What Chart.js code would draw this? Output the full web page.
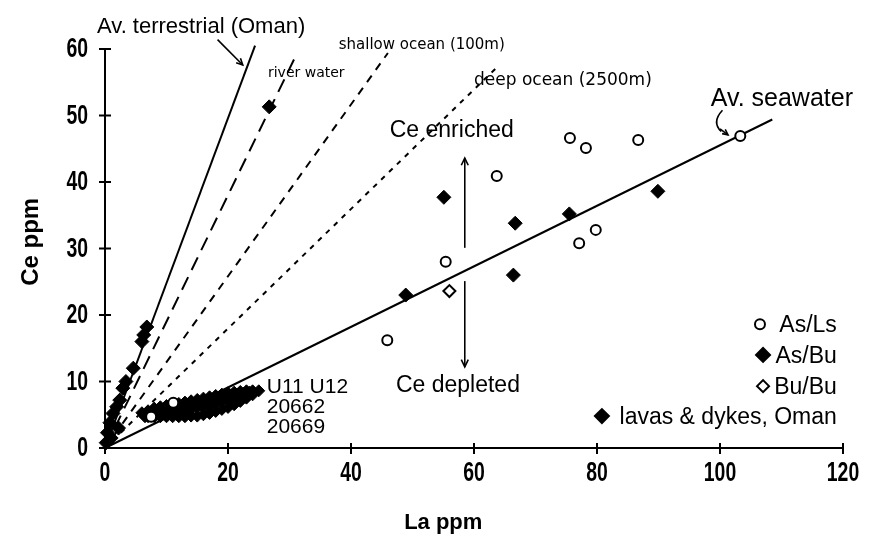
<!DOCTYPE html>
<html>
<head>
<meta charset="utf-8">
<script src="https://cdn.jsdelivr.net/npm/chart.js@4.4.0/dist/chart.umd.min.js"></script>
<style>
  html, body { margin: 0; padding: 0; background: #fff; }
  #wrap { width: 888px; height: 553px; }
</style>
</head>
<body>
<div id="wrap"><canvas id="ceLaChart"></canvas></div>
<script>
// La vs Ce (ppm): sediments, basalts and Oman lavas against reference Ce/La lines

// As/Ls (open circles)
const asLsLa = [45.9, 55.4, 63.7, 75.6, 78.2, 77.1, 79.8, 86.7, 103.3, 7.5, 11.1];
const asLsCe = [16.2, 28.0, 40.9, 46.6, 45.1, 30.8, 32.8, 46.3, 46.9, 4.7, 6.8];

// As/Bu (filled diamonds)
const asBuLa = [48.9, 55.1, 66.4, 66.7, 75.5, 89.9, 26.7];
const asBuCe = [23.0, 37.7, 26.0, 33.8, 35.2, 38.6, 51.3];

// Bu/Bu (open diamonds)
const buBuLa = [56.0];
const buBuCe = [23.6];

// lavas & dykes, Oman
const lavaLa = [6.8, 6.3, 6.0, 4.6, 3.4, 2.9, 2.4, 1.9, 1.3, 0.8, 2.2, 0.4, 0.2, 1.0];
const lavaCe = [18.2, 17.0, 16.0, 12.0, 10.0, 9.0, 7.2, 6.2, 5.2, 3.8, 3.0, 2.3, 0.8, 1.5];

// U11, U12, 20662, 20669 cluster
const clusterLa = [6, 6.5, 7, 7, 8, 8, 8, 9, 9, 9, 10, 10, 10, 11, 11, 11, 12, 12, 12, 13, 13, 13,
  14, 14, 14, 15, 15, 15, 16, 16, 16, 17, 17, 17, 18, 18, 18, 19, 19, 19, 20, 20, 20,
  21, 21, 21, 22, 22, 22, 23, 23, 24, 24, 25,
  7.5, 8.5, 9.5, 10.5, 11.5, 12.5, 13.5, 14.5, 15.5, 16.5, 17.5, 18.5, 19.5, 20.5, 21.5, 22.5, 23.5];
const clusterCe = [5.3, 4.7, 4.7, 5.6, 4.7, 5.4, 6.0, 4.7, 5.5, 6.2, 4.7, 5.5, 6.4, 4.7, 5.6, 6.5, 4.7, 5.7, 6.7, 4.7, 5.8, 6.9,
  4.8, 6.0, 7.1, 4.8, 6.1, 7.3, 5.0, 6.2, 7.5, 5.2, 6.4, 7.7, 5.5, 6.7, 7.9, 5.8, 7.0, 8.1, 6.1, 7.2, 8.3,
  6.5, 7.5, 8.4, 7.0, 7.8, 8.5, 7.5, 8.6, 8.0, 8.6, 8.6,
  5.1, 5.2, 5.3, 5.5, 5.6, 5.9, 6.0, 6.3, 6.5, 6.7, 7.0, 7.3, 7.6, 7.9, 8.1, 8.2, 8.4];

// reference lines from the origin: end points
const refNames = ['Av. terrestrial (Oman)', 'river water', 'shallow ocean (100m)', 'deep ocean (2500m)', 'Av. seawater'];
const refEndLa = [24.4, 31.3, 46.0, 64.0, 108.5];
const refEndCe = [60.5, 59.5, 59.4, 57.5, 49.4];
const refDash = [[], [14, 8], [8, 7], [5, 6], []];

const xTicks = [0, 20, 40, 60, 80, 100, 120];
const yTicks = [0, 10, 20, 30, 40, 50, 60];

const pts = (xs, ys) => xs.map((v, i) => ({ x: v, y: ys[i] }));

const SANS = "'Liberation Sans', Arial, sans-serif";
const SMALL = "'DejaVu Sans', Verdana, sans-serif";

// free text on the plot, placed in data units
const notes = [
  { text: 'Av. terrestrial (Oman)', la: -1.3, ce: 62.4, font: `22px ${SANS}` },
  { text: 'river water', la: 26.5, ce: 55.8, font: `14px ${SMALL}` },
  { text: 'shallow ocean (100m)', la: 38.0, ce: 60.0, font: `15px ${SMALL}` },
  { text: 'deep ocean (2500m)', la: 60.0, ce: 54.6, font: `17px ${SMALL}` },
  { text: 'Av. seawater', la: 98.5, ce: 51.4, font: `25px ${SANS}` },
  { text: 'Ce enriched', la: 46.3, ce: 46.8, font: `23px ${SANS}` },
  { text: 'Ce depleted', la: 47.3, ce: 8.4, font: `23px ${SANS}` },
  { text: 'U11 U12', la: 26.3, ce: 8.3, font: `21px ${SANS}` },
  { text: '20662', la: 26.3, ce: 5.3, font: `21px ${SANS}` },
  { text: '20669', la: 26.3, ce: 2.3, font: `21px ${SANS}` }
];

// legend rows: marker position and right-aligned text
const legendRows = [
  { text: 'As/Ls', style: 'circle', fill: '#fff', r: 5, mla: 106.5, ce: 17.4 },
  { text: 'As/Bu', style: 'rectRot', fill: '#000', r: 7, mla: 107.0, ce: 12.8 },
  { text: 'Bu/Bu', style: 'rectRot', fill: '#fff', r: 6, mla: 107.0, ce: 8.1 },
  { text: 'lavas & dykes, Oman', style: 'rectRot', fill: '#000', r: 7, mla: 80.8, ce: 3.6 }
];

function arrow(ctx, x1, y1, x2, y2, head) {
  ctx.beginPath();
  ctx.moveTo(x1, y1);
  ctx.lineTo(x2, y2);
  ctx.stroke();
  const a = Math.atan2(y2 - y1, x2 - x1);
  ctx.beginPath();
  ctx.moveTo(x2 - head * Math.cos(a - 0.45), y2 - head * Math.sin(a - 0.45));
  ctx.lineTo(x2, y2);
  ctx.lineTo(x2 - head * Math.cos(a + 0.45), y2 - head * Math.sin(a + 0.45));
  ctx.stroke();
}

// tall, narrow digits for the axis numbers
function narrowText(ctx, text, x, y, align) {
  ctx.save();
  ctx.translate(x, y);
  ctx.scale(0.72, 1);
  ctx.textAlign = align;
  ctx.fillText(text, 0, 0);
  ctx.restore();
}

const decorations = {
  id: 'decorations',
  afterDatasetsDraw(chart) {
    const { ctx, scales: { x, y } } = chart;
    const px = v => x.getPixelForValue(v);
    const py = v => y.getPixelForValue(v);
    ctx.save();
    ctx.strokeStyle = '#000';
    ctx.fillStyle = '#000';
    ctx.lineWidth = 2;

    // tick marks crossing both axes, with their numbers
    ctx.font = `bold 27px ${SANS}`;
    ctx.textBaseline = 'middle';
    xTicks.forEach(v => {
      ctx.beginPath();
      ctx.moveTo(px(v), py(0) - 5);
      ctx.lineTo(px(v), py(0) + 6);
      ctx.stroke();
      narrowText(ctx, String(v), px(v), py(0) + 26, 'center');
    });
    yTicks.forEach(v => {
      ctx.beginPath();
      ctx.moveTo(px(0) - 6, py(v));
      ctx.lineTo(px(0) + 6, py(v));
      ctx.stroke();
      narrowText(ctx, String(v), px(0) - 17, py(v) + 1, 'right');
    });

    // axis titles
    ctx.font = `bold 22px ${SANS}`;
    ctx.textAlign = 'center';
    ctx.fillText('La ppm', px(55.0), py(0) + 75);
    ctx.save();
    ctx.translate(px(0) - 74, py(31));
    ctx.rotate(-Math.PI / 2);
    ctx.font = `bold 24px ${SANS}`;
    ctx.fillText('Ce ppm', 0, 0);
    ctx.restore();

    // text notes
    ctx.textBaseline = 'alphabetic';
    ctx.textAlign = 'left';
    notes.forEach(n => {
      ctx.font = n.font;
      ctx.fillText(n.text, px(n.la), py(n.ce));
    });

    // pointer arrows
    ctx.lineWidth = 1.6;
    arrow(ctx, px(18.3), py(61.4), px(22.4), py(57.6), 7);
    ctx.beginPath();
    ctx.moveTo(px(100.4), py(50.8));
    ctx.quadraticCurveTo(px(98.6), py(49.0), px(100.2), py(47.6));
    ctx.stroke();
    arrow(ctx, px(100.0), py(48.0), px(101.3), py(47.1), 6);

    // Ce enriched / Ce depleted arrows
    arrow(ctx, px(58.5), py(30.1), px(58.5), py(43.6), 8);
    arrow(ctx, px(58.5), py(25.1), px(58.5), py(12.2), 8);

    // legend
    ctx.textAlign = 'right';
    ctx.font = `23px ${SANS}`;
    legendRows.forEach(r => {
      ctx.fillStyle = '#000';
      ctx.fillText(r.text, px(119.0), py(r.ce));
      ctx.fillStyle = r.fill;
      ctx.lineWidth = 2;
      Chart.helpers.drawPoint(ctx, { pointStyle: r.style, radius: r.r, borderWidth: 2 },
        px(r.mla), py(r.ce) - 8);
    });
    ctx.restore();
  }
};

const refSets = refNames.map((name, i) => ({
  label: name,
  data: [{ x: 0, y: 0 }, { x: refEndLa[i], y: refEndCe[i] }],
  showLine: true,
  borderColor: '#000',
  borderWidth: 2,
  borderDash: refDash[i],
  pointRadius: 0,
  clip: false
}));

new Chart(document.getElementById('ceLaChart'), {
  type: 'scatter',
  data: {
    datasets: [
      { label: 'As/Ls', data: pts(asLsLa, asLsCe), pointStyle: 'circle', pointRadius: 5,
        backgroundColor: '#fff', borderColor: '#000', borderWidth: 2, clip: false },
      { label: 'Bu/Bu', data: pts(buBuLa, buBuCe), pointStyle: 'rectRot', pointRadius: 6,
        backgroundColor: '#fff', borderColor: '#000', borderWidth: 2 },
      { label: 'As/Bu', data: pts(asBuLa, asBuCe), pointStyle: 'rectRot', pointRadius: 7,
        backgroundColor: '#000', borderColor: '#000', borderWidth: 1 },
      { label: 'lavas & dykes, Oman', data: pts(lavaLa, lavaCe), pointStyle: 'rectRot', pointRadius: 7,
        backgroundColor: '#000', borderColor: '#000', borderWidth: 1, clip: false },
      { label: 'U11 U12 20662 20669', data: pts(clusterLa, clusterCe), pointStyle: 'rectRot', pointRadius: 6,
        backgroundColor: '#000', borderColor: '#000', borderWidth: 1 },
      ...refSets
    ]
  },
  options: {
    responsive: true,
    maintainAspectRatio: false,
    animation: false,
    layout: { padding: { top: 49, right: 45, left: 0, bottom: 0 } },
    plugins: { legend: { display: false }, tooltip: { enabled: false } },
    scales: {
      x: {
        type: 'linear', min: 0, max: 120,
        afterFit: s => { s.height = 105; },
        afterBuildTicks: s => { s.ticks = xTicks.map(v => ({ value: v })); },
        grid: { display: false },
        border: { display: true, color: '#000', width: 2 },
        ticks: { display: false }
      },
      y: {
        type: 'linear', min: 0, max: 60,
        afterFit: s => { s.width = 105; },
        afterBuildTicks: s => { s.ticks = yTicks.map(v => ({ value: v })); },
        grid: { display: false },
        border: { display: true, color: '#000', width: 2 },
        ticks: { display: false }
      }
    }
  },
  plugins: [decorations]
});
</script>
</body>
</html>
